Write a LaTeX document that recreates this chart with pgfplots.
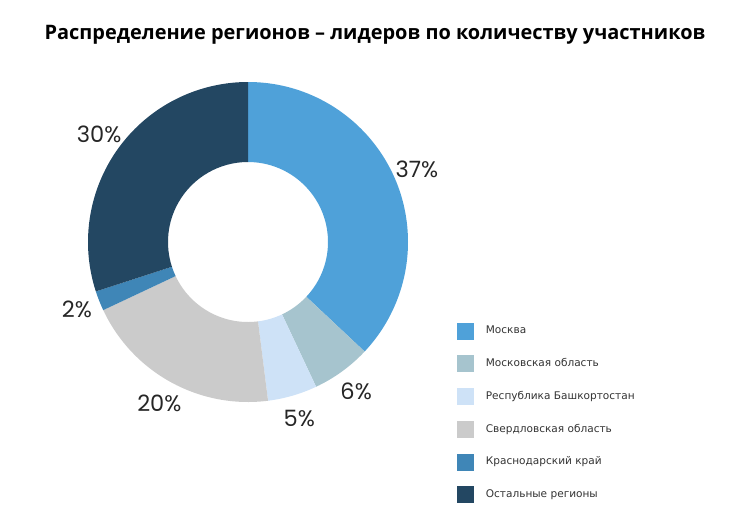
\documentclass[border=0pt]{standalone}
\usepackage{pgfplots}
\usepackage{pgfplotstable}
\pgfplotsset{compat=1.18}
\usepackage{fontspec}
\setmainfont{Open Sans}
\newfontfamily\legfont{DejaVu Sans}
\newfontfamily\numfont{Poppins}

\definecolor{c0}{HTML}{4FA1D9}
\definecolor{c1}{HTML}{A6C4CE}
\definecolor{c2}{HTML}{CEE2F7}
\definecolor{c3}{HTML}{CBCBCB}
\definecolor{c4}{HTML}{3F86B7}
\definecolor{c5}{HTML}{234762}

\pgfplotstableread[col sep=comma]{
name,value
Москва,37
Московская область,6
Республика Башкортостан,5
Свердловская область,20
Краснодарский край,2
Остальные регионы,30
}\regions

\begin{document}
\begin{tikzpicture}
% angles of each slice, clockwise from the top
\gdef\cum{0}
\foreach \i in {0,...,5}{%
  \pgfplotstablegetelem{\i}{value}\of\regions
  \let\v\pgfplotsretval
  \pgfmathsetmacro\sa{90-3.6*\cum}
  \pgfmathsetmacro\ea{90-3.6*(\cum+\v)}
  \pgfmathsetmacro\ma{(\sa+\ea)/2}
  \expandafter\xdef\csname sa\i\endcsname{\sa}
  \expandafter\xdef\csname ea\i\endcsname{\ea}
  \expandafter\xdef\csname ma\i\endcsname{\ma}
  \expandafter\xdef\csname val\i\endcsname{\v}
  \pgfmathsetmacro\c{\cum+\v}
  \xdef\cum{\c}
}
\begin{axis}[
  x=1cm, y=1cm,
  xmin=-4.96, xmax=10.04, ymin=-5.76, ymax=4.84,
  hide axis, clip=false,
  legend style={at={(axis cs:4.18,-1.6)}, anchor=north west, draw=none, fill=none,
    inner sep=0pt, row sep=0.30cm, column sep=0.16cm,
    font=\legfont\fontsize{6}{7}\selectfont, text=black!80, cells={anchor=west}},
  legend image code/.code={\fill[#1, draw=none] (0cm,-0.17cm) rectangle (0.34cm,0.17cm);},
]
\path (axis cs:-4.96,-5.76) rectangle (axis cs:10.04,4.84);
\pgfplotsinvokeforeach{0,...,5}{
  \fill[c#1, shift={(axis cs:0,0)}]
    (\csname sa#1\endcsname:3.2cm)
    arc[start angle=\csname sa#1\endcsname, end angle=\csname ea#1\endcsname, radius=3.2cm]
    -- (\csname ea#1\endcsname:1.6cm)
    arc[start angle=\csname ea#1\endcsname, end angle=\csname sa#1\endcsname, radius=1.6cm]
    -- cycle;
  \node[shift={(axis cs:0,0)}, font=\numfont\fontsize{12.8}{15}\selectfont, text=black!85]
    at (\csname ma#1\endcsname:3.68cm) {\csname val#1\endcsname\%};
}
\addlegendimage{fill=c0, draw=none}\addlegendentry{Москва}
\addlegendimage{fill=c1, draw=none}\addlegendentry{Московская область}
\addlegendimage{fill=c2, draw=none}\addlegendentry{Республика Башкортостан}
\addlegendimage{fill=c3, draw=none}\addlegendentry{Свердловская область}
\addlegendimage{fill=c4, draw=none}\addlegendentry{Краснодарский край}
\addlegendimage{fill=c5, draw=none}\addlegendentry{Остальные регионы}
\node[font=\bfseries\fontsize{11.35}{13}\selectfont] at (axis cs:2.54,4.14)
  {Распределение регионов – лидеров по количеству участников};
\end{axis}
\end{tikzpicture}
\end{document}
